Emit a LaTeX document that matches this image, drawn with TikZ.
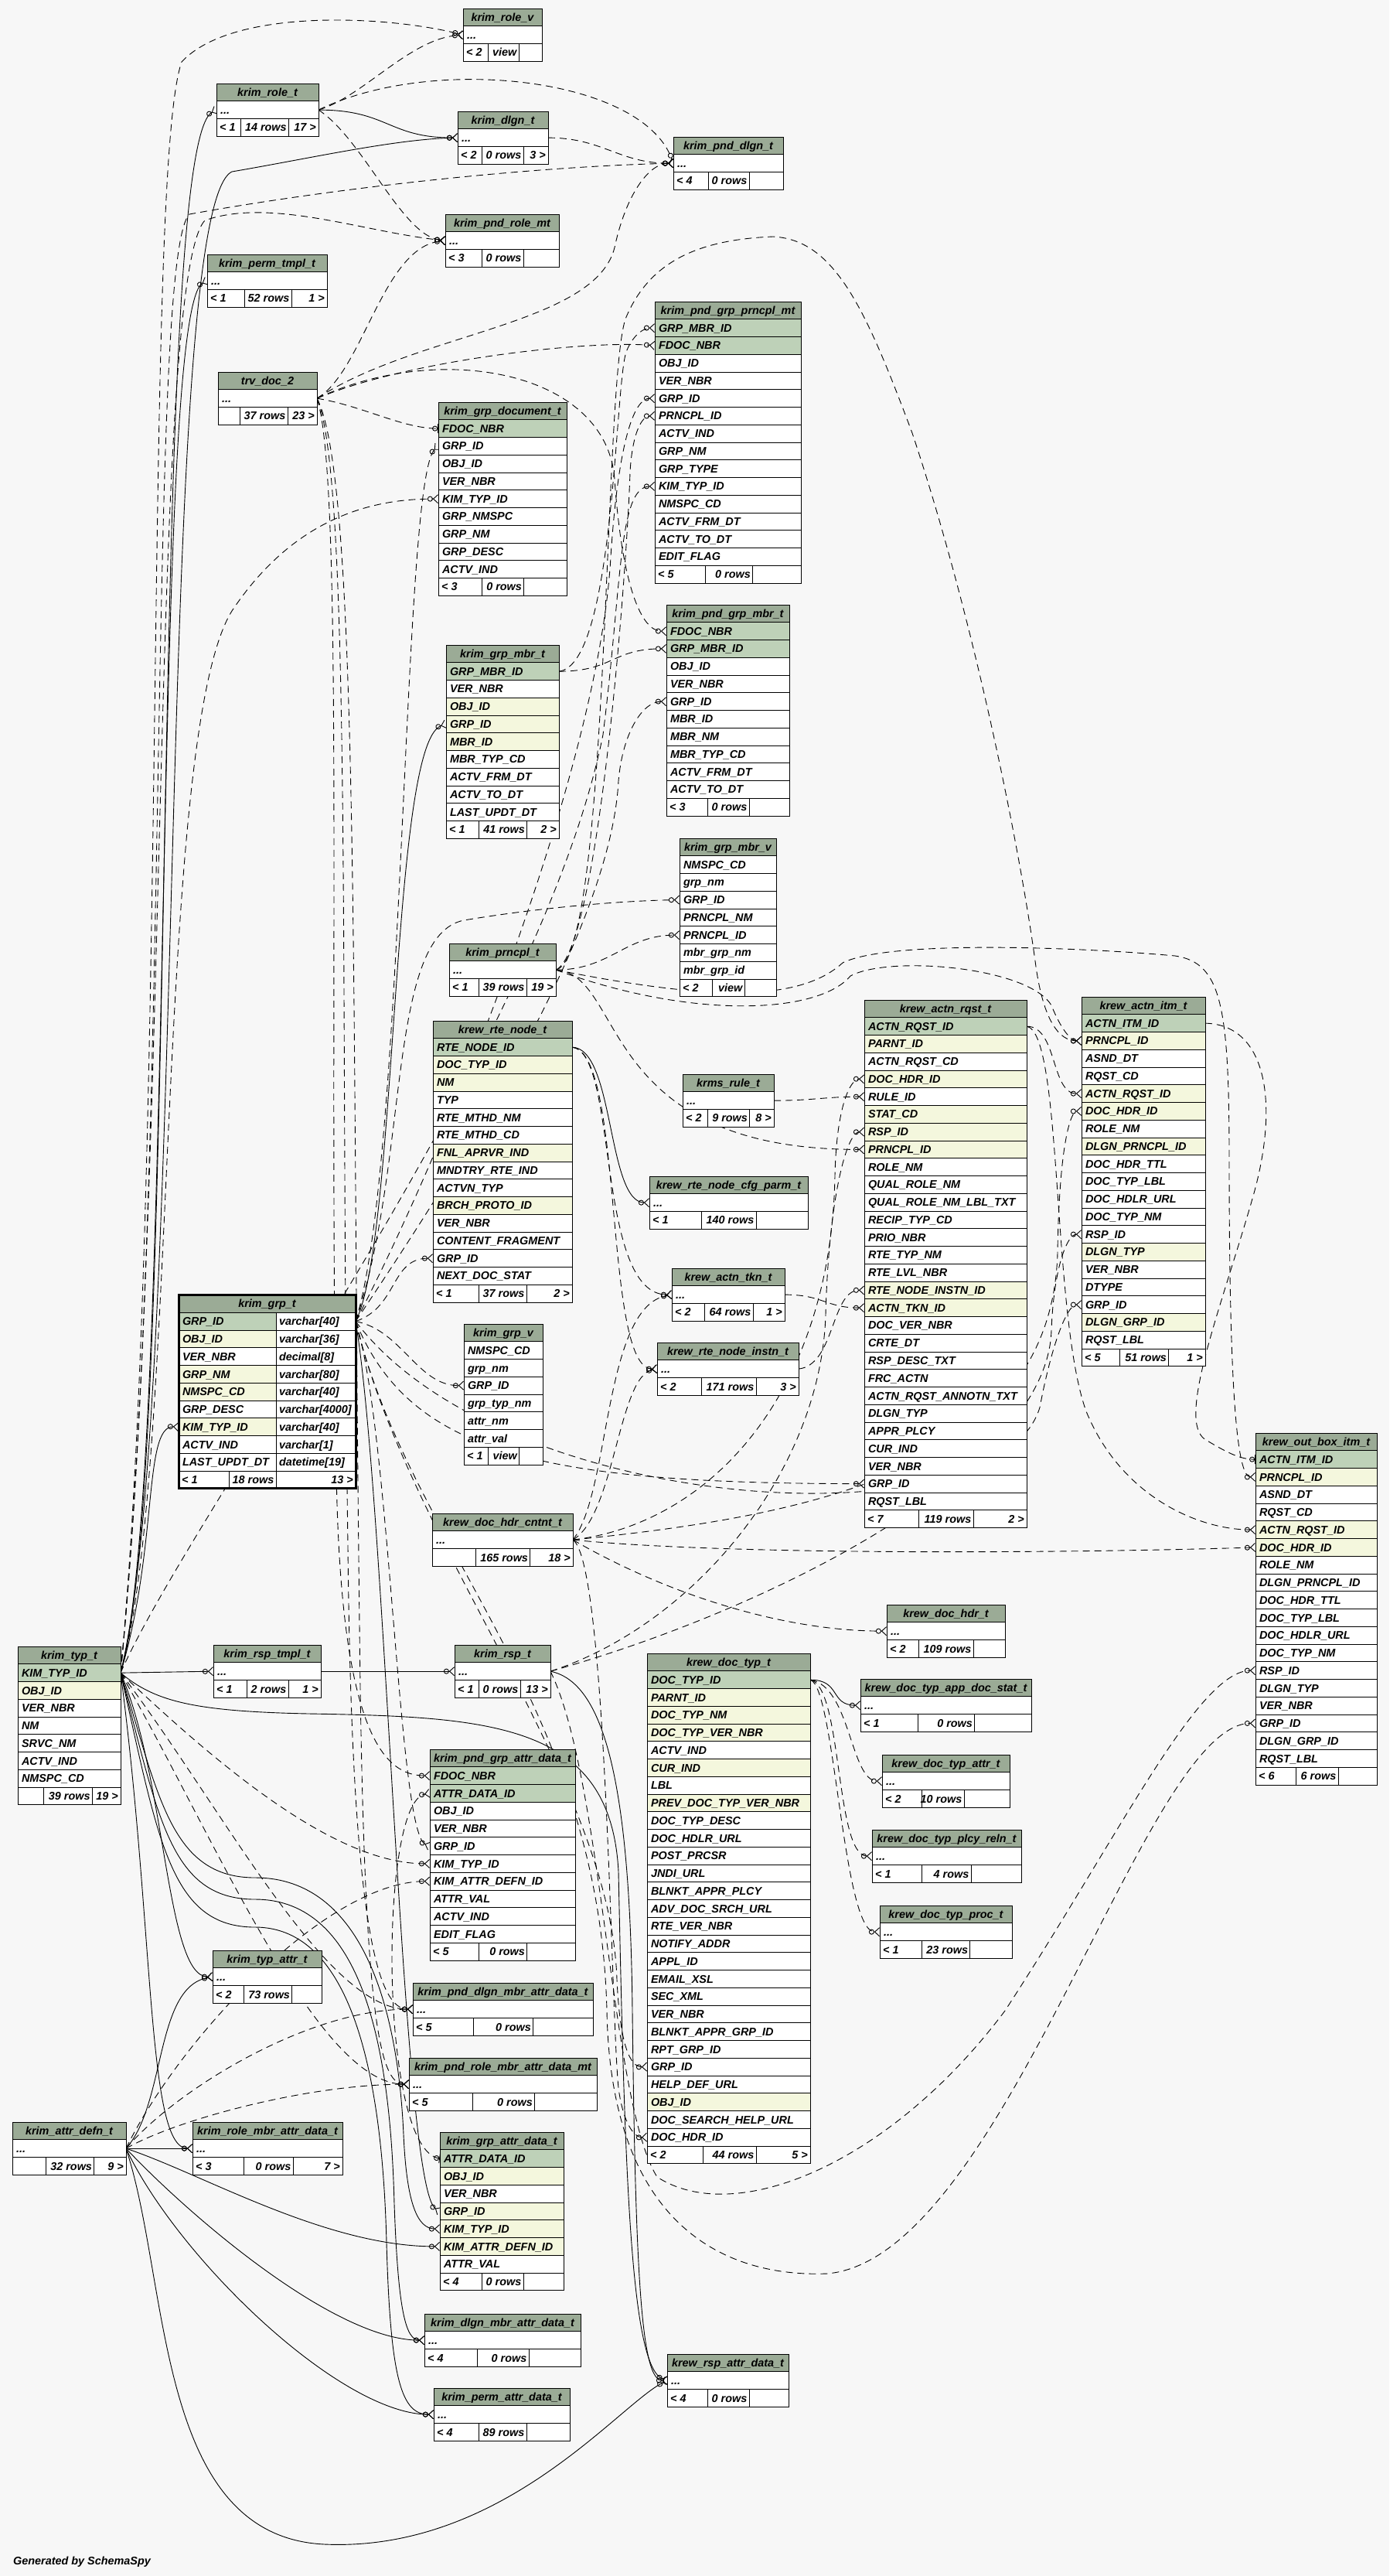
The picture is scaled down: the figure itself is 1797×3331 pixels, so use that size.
\documentclass[tikz,border=0pt]{standalone}
\usepackage{fontspec}
\setmainfont{Liberation Sans}
\usetikzlibrary{arrows.meta}
\definecolor{bg}{HTML}{F7F7F7}
\definecolor{hdr}{HTML}{9BAB96}
\definecolor{rowpk}{HTML}{BED1B8}
\definecolor{rowix}{HTML}{F4F7DD}
\definecolor{rowplain}{HTML}{FFFFFF}
\pgfdeclarelayer{bgfill}
\pgfdeclarelayer{edges}
\pgfsetlayers{bgfill,edges,main}
\newcommand\rowdots{...}
\tikzset{
  cell/.style={draw=black, line width=1pt, anchor=north west, outer sep=0pt,
               inner xsep=5pt, inner ysep=0pt, minimum height=22.75pt,
               text height=12.2pt, text depth=2pt, align=left},
  hdcell/.style={cell, fill=hdr, align=center, inner xsep=0pt},
  ftxt/.style={inner sep=0pt, text height=12.2pt, text depth=2pt},
  fk/.style={draw=black, line width=0.9pt},
  imp/.style={fk, dash pattern=on 9pt off 6pt},
  crow/.style={-{Circle[open,length=7pt,width=7pt]Straight Barb[reversed,length=6pt,width=11pt]}},
  one/.style={-{Circle[open,length=7pt,width=7pt]Bar[width=12pt]}},
  both/.style={{Bar[width=12pt]Circle[open,length=7pt,width=7pt]}-{Circle[open,length=7pt,width=7pt]Straight Barb[reversed,length=6pt,width=11pt]}},
}
% table: name, left, right, top, rows (text/kind)
\newcommand\dbtable[5]{%
  \pgfmathsetmacro\dbw{#3-#2}%
  \pgfmathsetmacro\dbtw{#3-#2-10}%
  \xdef\dbl{#2}\xdef\dbr{#3}\xdef\dbtop{#4}%
  \node[hdcell, minimum width=\dbw pt] (#1) at (#2,#4) {#1};
  \foreach \txt/\kind [count=\i] in {#5}{%
    \node[cell, fill=row\kind, text width=\dbtw pt] (#1-\i) at (#2,#4+\i*22.75) {\txt};
    \xdef\dbn{\i}}%
}
% footer: name, divider 1, divider 2, three texts
\newcommand\dbfoot[6]{%
  \pgfmathsetmacro\dbfy{\dbtop+(\dbn+1)*22.75}%
  \pgfmathsetmacro\dbfm{\dbfy+11.375}%
  \node[cell, fill=white, minimum width=\dbw pt] (#1-foot) at (\dbl,\dbfy) {};
  \draw[line width=1pt] (#2,\dbfy) -- ++(0,22.75);
  \draw[line width=1pt] (#3,\dbfy) -- ++(0,22.75);
  \node[ftxt, anchor=west] (#1-fa) at (\dbl+4,\dbfm) {#4};
  \node[ftxt, anchor=east] (#1-fb) at (#3-2.5,\dbfm) {#5};
  \node[ftxt, anchor=east] (#1-fc) at (\dbr-3,\dbfm) {#6};
}
\begin{document}
\catcode`\_=12
\begin{tikzpicture}[x=1pt,y=-1pt,font=\fontsize{14.4}{17}\selectfont\bfseries\itshape]
\useasboundingbox (0,0) rectangle (1797,3331);
\begin{pgfonlayer}{bgfill}
\fill[bg] (0,0) rectangle (1797,3331);
\end{pgfonlayer}

% top block
\dbtable{krim_role_v}{599}{701}{11}{\rowdots/plain}
\dbfoot{krim_role_v}{631.5}{671}{< 2}{view}{}
\dbtable{krim_role_t}{280}{412}{108}{\rowdots/plain}
\dbfoot{krim_role_t}{311.6}{373.4}{< 1}{14 rows}{17 >}
\dbtable{krim_dlgn_t}{592}{709}{144}{\rowdots/plain}
\dbfoot{krim_dlgn_t}{623}{677}{< 2}{0 rows}{3 >}
\dbtable{krim_pnd_dlgn_t}{871}{1013}{177}{\rowdots/plain}
\dbfoot{krim_pnd_dlgn_t}{916}{969}{< 4}{0 rows}{}
\dbtable{krim_pnd_role_mt}{576}{723}{277}{\rowdots/plain}
\dbfoot{krim_pnd_role_mt}{623}{677}{< 3}{0 rows}{}
\dbtable{krim_perm_tmpl_t}{268}{423}{329}{\rowdots/plain}
\dbfoot{krim_perm_tmpl_t}{316}{377}{< 1}{52 rows}{1 >}
\dbtable{trv_doc_2}{282}{410}{481}{\rowdots/plain}
\dbfoot{trv_doc_2}{310}{372}{}{37 rows}{23 >}
\dbtable{krim_pnd_grp_prncpl_mt}{847}{1036}{390}{GRP_MBR_ID/pk, FDOC_NBR/pk, OBJ_ID/plain, VER_NBR/plain,
  GRP_ID/plain, PRNCPL_ID/plain, ACTV_IND/plain, GRP_NM/plain, GRP_TYPE/plain, KIM_TYP_ID/plain,
  NMSPC_CD/plain, ACTV_FRM_DT/plain, ACTV_TO_DT/plain, EDIT_FLAG/plain}
\dbfoot{krim_pnd_grp_prncpl_mt}{912}{973.5}{< 5}{0 rows}{}
\dbtable{krim_grp_document_t}{567}{733}{520}{FDOC_NBR/pk, GRP_ID/plain, OBJ_ID/plain, VER_NBR/plain,
  KIM_TYP_ID/plain, GRP_NMSPC/plain, GRP_NM/plain, GRP_DESC/plain, ACTV_IND/plain}
\dbfoot{krim_grp_document_t}{623.5}{677.6}{< 3}{0 rows}{}
\dbtable{krim_pnd_grp_mbr_t}{862}{1021}{782}{FDOC_NBR/pk, GRP_MBR_ID/pk, OBJ_ID/plain, VER_NBR/plain,
  GRP_ID/plain, MBR_ID/plain, MBR_NM/plain, MBR_TYP_CD/plain, ACTV_FRM_DT/plain, ACTV_TO_DT/plain}
\dbfoot{krim_pnd_grp_mbr_t}{915}{969}{< 3}{0 rows}{}
\dbtable{krim_grp_mbr_t}{577}{723}{834}{GRP_MBR_ID/pk, VER_NBR/plain, OBJ_ID/ix, GRP_ID/ix, MBR_ID/ix,
  MBR_TYP_CD/plain, ACTV_FRM_DT/plain, ACTV_TO_DT/plain, LAST_UPDT_DT/plain}
\dbfoot{krim_grp_mbr_t}{619}{681.6}{< 1}{41 rows}{2 >}
\dbtable{krim_grp_mbr_v}{879}{1004}{1084}{NMSPC_CD/plain, grp_nm/plain, GRP_ID/plain, PRNCPL_NM/plain,
  PRNCPL_ID/plain, mbr_grp_nm/plain, mbr_grp_id/plain}
\dbfoot{krim_grp_mbr_v}{921}{963}{< 2}{view}{}
\dbtable{krim_prncpl_t}{581}{719}{1220}{\rowdots/plain}
\dbfoot{krim_prncpl_t}{619}{681}{< 1}{39 rows}{19 >}

% middle block
\dbtable{krew_rte_node_t}{560}{740}{1320}{RTE_NODE_ID/pk, DOC_TYP_ID/ix, NM/ix, TYP/plain, RTE_MTHD_NM/plain,
  RTE_MTHD_CD/plain, FNL_APRVR_IND/ix, MNDTRY_RTE_IND/plain, ACTVN_TYP/plain, BRCH_PROTO_ID/ix,
  VER_NBR/plain, CONTENT_FRAGMENT/plain, GRP_ID/plain, NEXT_DOC_STAT/plain}
\dbfoot{krew_rte_node_t}{619}{681}{< 1}{37 rows}{2 >}
\dbtable{krew_actn_rqst_t}{1118}{1328}{1293}{ACTN_RQST_ID/pk, PARNT_ID/ix, ACTN_RQST_CD/plain, DOC_HDR_ID/ix,
  RULE_ID/plain, STAT_CD/ix, RSP_ID/ix, PRNCPL_ID/ix, ROLE_NM/plain, QUAL_ROLE_NM/plain,
  QUAL_ROLE_NM_LBL_TXT/plain, RECIP_TYP_CD/plain, PRIO_NBR/plain, RTE_TYP_NM/plain, RTE_LVL_NBR/plain,
  RTE_NODE_INSTN_ID/ix, ACTN_TKN_ID/ix, DOC_VER_NBR/plain, CRTE_DT/plain, RSP_DESC_TXT/plain,
  FRC_ACTN/plain, ACTN_RQST_ANNOTN_TXT/plain, DLGN_TYP/plain, APPR_PLCY/plain, CUR_IND/plain,
  VER_NBR/plain, GRP_ID/plain, RQST_LBL/plain}
\dbfoot{krew_actn_rqst_t}{1188}{1259}{< 7}{119 rows}{2 >}
\dbtable{krew_actn_itm_t}{1399}{1559}{1289}{ACTN_ITM_ID/pk, PRNCPL_ID/ix, ASND_DT/plain, RQST_CD/plain,
  ACTN_RQST_ID/ix, DOC_HDR_ID/ix, ROLE_NM/plain, DLGN_PRNCPL_ID/ix, DOC_HDR_TTL/plain, DOC_TYP_LBL/plain,
  DOC_HDLR_URL/plain, DOC_TYP_NM/plain, RSP_ID/plain, DLGN_TYP/ix, VER_NBR/plain, DTYPE/plain,
  GRP_ID/plain, DLGN_GRP_ID/ix, RQST_LBL/plain}
\dbfoot{krew_actn_itm_t}{1448}{1511.7}{< 5}{51 rows}{1 >}
\dbtable{krms_rule_t}{883}{1001}{1389}{\rowdots/plain}
\dbfoot{krms_rule_t}{915}{969.6}{< 2}{9 rows}{8 >}
\dbtable{krew_rte_node_cfg_parm_t}{840}{1045}{1521}{\rowdots/plain}
\dbfoot{krew_rte_node_cfg_parm_t}{907}{978}{< 1}{140 rows}{}
\dbtable{krew_actn_tkn_t}{869}{1015}{1640}{\rowdots/plain}
\dbfoot{krew_actn_tkn_t}{911}{974}{< 2}{64 rows}{1 >}
\dbtable{krew_rte_node_instn_t}{850}{1033}{1736}{\rowdots/plain}
\dbfoot{krew_rte_node_instn_t}{907}{978}{< 2}{171 rows}{3 >}
\dbtable{krim_grp_v}{600}{702}{1712}{NMSPC_CD/plain, grp_nm/plain, GRP_ID/plain, grp_typ_nm/plain,
  attr_nm/plain, attr_val/plain}
\dbfoot{krim_grp_v}{631}{671.6}{< 1}{view}{}
\dbtable{krew_out_box_itm_t}{1624}{1781}{1853}{ACTN_ITM_ID/pk, PRNCPL_ID/ix, ASND_DT/plain, RQST_CD/plain,
  ACTN_RQST_ID/ix, DOC_HDR_ID/ix, ROLE_NM/plain, DLGN_PRNCPL_ID/plain, DOC_HDR_TTL/plain, DOC_TYP_LBL/plain,
  DOC_HDLR_URL/plain, DOC_TYP_NM/plain, RSP_ID/plain, DLGN_TYP/plain, VER_NBR/plain, GRP_ID/plain,
  DLGN_GRP_ID/plain, RQST_LBL/plain}
\dbfoot{krew_out_box_itm_t}{1676}{1731}{< 6}{6 rows}{}
\dbtable{krew_doc_hdr_cntnt_t}{559}{741}{1957}{\rowdots/plain}
\dbfoot{krew_doc_hdr_cntnt_t}{615.7}{685.7}{}{165 rows}{18 >}

% focus table
\node[hdcell, minimum width=229pt] (krim_grp_t) at (231,1674.5) {krim_grp_t};
\foreach \cname/\ctype/\kind [count=\i] in {GRP_ID/varchar[40]/pk, OBJ_ID/varchar[36]/ix,
  VER_NBR/decimal[8]/plain, GRP_NM/varchar[80]/ix, NMSPC_CD/varchar[40]/ix, GRP_DESC/varchar[4000]/plain,
  KIM_TYP_ID/varchar[40]/ix, ACTV_IND/varchar[1]/plain, LAST_UPDT_DT/datetime[19]/plain}{
  \node[cell, fill=row\kind, text width=116pt] (krim_grp_t-\i) at (231,1674.5+\i*22.75) {\cname};
  \node[cell, fill=white, inner xsep=4pt, text width=95pt] (krim_grp_t-\i-type) at (357,1674.5+\i*22.75) {\ctype};
}
\def\dbl{231}\def\dbr{460}\def\dbtop{1674.5}\def\dbn{9}\def\dbw{229}
\dbfoot{krim_grp_t}{296}{357}{< 1}{18 rows}{13 >}
\draw[line width=3pt] (krim_grp_t.north west) rectangle (krim_grp_t-foot.south east);

% lower block
\dbtable{krew_doc_hdr_t}{1147}{1300}{2075}{\rowdots/plain}
\dbfoot{krew_doc_hdr_t}{1188}{1259}{< 2}{109 rows}{}
\dbtable{krim_typ_t}{23}{156}{2129}{KIM_TYP_ID/pk, OBJ_ID/ix, VER_NBR/plain, NM/plain, SRVC_NM/plain,
  ACTV_IND/plain, NMSPC_CD/plain}
\dbfoot{krim_typ_t}{56.7}{119.3}{}{39 rows}{19 >}
\dbtable{krim_rsp_tmpl_t}{276}{415}{2127}{\rowdots/plain}
\dbfoot{krim_rsp_tmpl_t}{319}{373}{< 1}{2 rows}{1 >}
\dbtable{krim_rsp_t}{588}{712}{2127}{\rowdots/plain}
\dbfoot{krim_rsp_t}{619}{673}{< 1}{0 rows}{13 >}
\dbtable{krew_doc_typ_t}{837}{1048}{2138}{DOC_TYP_ID/pk, PARNT_ID/ix, DOC_TYP_NM/ix, DOC_TYP_VER_NBR/ix,
  ACTV_IND/plain, CUR_IND/ix, LBL/plain, PREV_DOC_TYP_VER_NBR/ix, DOC_TYP_DESC/plain, DOC_HDLR_URL/plain,
  POST_PRCSR/plain, JNDI_URL/plain, BLNKT_APPR_PLCY/plain, ADV_DOC_SRCH_URL/plain, RTE_VER_NBR/plain,
  NOTIFY_ADDR/plain, APPL_ID/plain, EMAIL_XSL/plain, SEC_XML/plain, VER_NBR/plain, BLNKT_APPR_GRP_ID/plain,
  RPT_GRP_ID/plain, GRP_ID/plain, HELP_DEF_URL/plain, OBJ_ID/ix, DOC_SEARCH_HELP_URL/plain, DOC_HDR_ID/plain}
\dbfoot{krew_doc_typ_t}{909}{978}{< 2}{44 rows}{5 >}
\dbtable{krew_doc_typ_app_doc_stat_t}{1113}{1334}{2171}{\rowdots/plain}
\dbfoot{krew_doc_typ_app_doc_stat_t}{1187}{1260.6}{< 1}{0 rows}{}
\dbtable{krew_doc_typ_attr_t}{1141}{1306}{2269}{\rowdots/plain}
\dbfoot{krew_doc_typ_attr_t}{1192.6}{1247}{< 2}{10 rows}{}
\dbtable{krew_doc_typ_plcy_reln_t}{1128}{1321}{2366}{\rowdots/plain}
\dbfoot{krew_doc_typ_plcy_reln_t}{1192.6}{1256}{< 1}{4 rows}{}
\dbtable{krew_doc_typ_proc_t}{1138}{1309}{2464}{\rowdots/plain}
\dbfoot{krew_doc_typ_proc_t}{1192.6}{1254.8}{< 1}{23 rows}{}
\dbtable{krim_pnd_grp_attr_data_t}{556}{744}{2262}{FDOC_NBR/pk, ATTR_DATA_ID/pk, OBJ_ID/plain, VER_NBR/plain,
  GRP_ID/plain, KIM_TYP_ID/plain, KIM_ATTR_DEFN_ID/plain, ATTR_VAL/plain, ACTV_IND/plain, EDIT_FLAG/plain}
\dbfoot{krim_pnd_grp_attr_data_t}{619}{681.6}{< 5}{0 rows}{}
\dbtable{krim_typ_attr_t}{275}{416}{2522}{\rowdots/plain}
\dbfoot{krim_typ_attr_t}{315}{377.7}{< 2}{73 rows}{}
\dbtable{krim_pnd_dlgn_mbr_attr_data_t}{534}{767}{2564}{\rowdots/plain}
\dbfoot{krim_pnd_dlgn_mbr_attr_data_t}{612.6}{689.5}{< 5}{0 rows}{}
\dbtable{krim_pnd_role_mbr_attr_data_mt}{529}{772}{2661}{\rowdots/plain}
\dbfoot{krim_pnd_role_mbr_attr_data_mt}{611.5}{691.5}{< 5}{0 rows}{}
\dbtable{krim_attr_defn_t}{16}{163}{2744}{\rowdots/plain}
\dbfoot{krim_attr_defn_t}{59}{121.7}{}{32 rows}{9 >}
\dbtable{krim_role_mbr_attr_data_t}{249}{443}{2744}{\rowdots/plain}
\dbfoot{krim_role_mbr_attr_data_t}{315}{379}{< 3}{0 rows}{7 >}
\dbtable{krim_grp_attr_data_t}{569}{729}{2757}{ATTR_DATA_ID/pk, OBJ_ID/ix, VER_NBR/plain, GRP_ID/ix,
  KIM_TYP_ID/ix, KIM_ATTR_DEFN_ID/ix, ATTR_VAL/plain}
\dbfoot{krim_grp_attr_data_t}{623}{677}{< 4}{0 rows}{}
\dbtable{krim_dlgn_mbr_attr_data_t}{549}{751}{2992}{\rowdots/plain}
\dbfoot{krim_dlgn_mbr_attr_data_t}{617.5}{684}{< 4}{0 rows}{}
\dbtable{krew_rsp_attr_data_t}{863}{1020}{3044}{\rowdots/plain}
\dbfoot{krew_rsp_attr_data_t}{915}{969}{< 4}{0 rows}{}
\dbtable{krim_perm_attr_data_t}{561}{737}{3088}{\rowdots/plain}
\dbfoot{krim_perm_attr_data_t}{619}{681}{< 4}{89 rows}{}

\node[anchor=base west, inner sep=0pt] (credit) at (17,3316) {Generated by SchemaSpy};

\begin{pgfonlayer}{edges}
% from krim_typ_t
\draw[fk,crow] (krim_typ_t-1.east) .. controls (235,1900) and (190,190) .. (krim_role_t-1.west);
\draw[fk,crow] (krim_typ_t-1.east) .. controls (228,1900) and (195,400) .. (krim_perm_tmpl_t-1.west);
\draw[fk,crow] (krim_typ_t-1.east) .. controls (245,1800) and (200,270) .. (300,222)
  .. controls (400,205) and (510,180) .. (krim_dlgn_t-1.west);
\draw[fk,crow] (krim_typ_t-1.east) .. controls (205,2000) and (185,1843) .. (krim_grp_t-7.west);
\draw[fk,crow] (krim_typ_t-1.east) -- (krim_rsp_tmpl_t-1.west);
\draw[fk,crow] (krim_typ_t-1.east) .. controls (215,2300) and (215,2556) .. (krim_typ_attr_t-1.west);
\draw[fk,crow] (krim_typ_t-1.east) .. controls (200,2500) and (190,2778) .. (krim_role_mbr_attr_data_t-1.west);
\draw[fk,crow] (krim_typ_t-1.east) .. controls (205,2320) and (220,2428) .. (330,2428)
  .. controls (470,2428) and (515,2600) .. (522,2760) .. controls (526,2850) and (540,2882) .. (krim_grp_attr_data_t-5.west);
\draw[fk,crow] (krim_typ_t-1.east) .. controls (205,2350) and (220,2456) .. (330,2456)
  .. controls (470,2456) and (505,2650) .. (510,2850) .. controls (515,2990) and (525,3026) .. (krim_dlgn_mbr_attr_data_t-1.west);
\draw[fk,crow] (krim_typ_t-1.east) .. controls (205,2380) and (220,2492) .. (330,2492)
  .. controls (460,2492) and (495,2700) .. (500,2900) .. controls (505,3080) and (520,3122) .. (krim_perm_attr_data_t-1.west);
\draw[fk,crow] (krim_typ_t-1.east) .. controls (200,2200) and (250,2213) .. (400,2216)
  .. controls (640,2220) and (790,2230) .. (800,2420) .. controls (808,2800) and (815,3060) .. (krew_rsp_attr_data_t-1.west);
\draw[imp,crow] (krim_typ_t-1.east) .. controls (300,2300) and (440,2410) .. (krim_pnd_grp_attr_data_t-6.west);
\draw[imp,crow] (krim_typ_t-1.east) .. controls (290,2340) and (420,2598) .. (krim_pnd_dlgn_mbr_attr_data_t-1.west);
\draw[imp,crow] (krim_typ_t-1.east) .. controls (280,2380) and (410,2695) .. (krim_pnd_role_mbr_attr_data_mt-1.west);
\draw[imp,crow] (krim_typ_t-1.east) .. controls (232,1900) and (200,950) .. (300,790)
  .. controls (380,670) and (480,645) .. (krim_grp_document_t-5.west);
\draw[imp,crow] (krim_typ_t-1.east) .. controls (250,1950) and (700,1350) .. (780,950)
  .. controls (805,750) and (800,629) .. (krim_pnd_grp_prncpl_mt-10.west);
\draw[imp,crow] (krim_typ_t-1.east) .. controls (218,1500) and (185,220) .. (235,80)
  .. controls (300,10) and (500,20) .. (krim_role_v-1.west);
\draw[imp,crow] (krim_typ_t-1.east) .. controls (222,1500) and (190,330) .. (245,277)
  .. controls (450,240) and (700,215) .. (krim_pnd_dlgn_t-1.west);
\draw[imp,crow] (krim_typ_t-1.east) .. controls (220,1500) and (195,360) .. (265,285)
  .. controls (350,255) and (470,300) .. (krim_pnd_role_mt-1.west);
% from krim_attr_defn_t
\draw[fk,crow] (krim_attr_defn_t-1.east) -- (krim_role_mbr_attr_data_t-1.west);
\draw[fk,crow] (krim_attr_defn_t-1.east) .. controls (215,2720) and (200,2570) .. (krim_typ_attr_t-1.west);
\draw[fk,crow] (krim_attr_defn_t-1.east) .. controls (260,2810) and (420,2905) .. (krim_grp_attr_data_t-6.west);
\draw[fk,crow] (krim_attr_defn_t-1.east) .. controls (240,2860) and (430,3026) .. (krim_dlgn_mbr_attr_data_t-1.west);
\draw[fk,crow] (krim_attr_defn_t-1.east) .. controls (230,2920) and (440,3122) .. (krim_perm_attr_data_t-1.west);
\draw[fk,crow] (krim_attr_defn_t-1.east) .. controls (220,2950) and (200,3280) .. (420,3290)
  .. controls (650,3300) and (800,3110) .. (krew_rsp_attr_data_t-1.west);
\draw[imp,crow] (krim_attr_defn_t-1.east) .. controls (230,2640) and (420,2433) .. (krim_pnd_grp_attr_data_t-7.west);
\draw[imp,crow] (krim_attr_defn_t-1.east) .. controls (230,2700) and (400,2598) .. (krim_pnd_dlgn_mbr_attr_data_t-1.west);
\draw[imp,crow] (krim_attr_defn_t-1.east) .. controls (230,2740) and (400,2695) .. (krim_pnd_role_mbr_attr_data_mt-1.west);
% from krim_role_t and krim_dlgn_t
\draw[fk,crow] (krim_role_t-1.east) .. controls +(90,0) and +(-90,0) .. (krim_dlgn_t-1.west);
\draw[imp,crow] (krim_role_t-1.east) .. controls (470,125) and (530,50) .. (krim_role_v-1.west);
\draw[imp,crow] (krim_role_t-1.east) .. controls (560,70) and (830,100) .. (krim_pnd_dlgn_t-1.west);
\draw[imp,crow] (krim_role_t-1.east) .. controls (470,180) and (520,305) .. (krim_pnd_role_mt-1.west);
\draw[imp,crow] (krim_dlgn_t-1.east) .. controls +(70,0) and +(-70,0) .. (krim_pnd_dlgn_t-1.west);
% from trv_doc_2
\draw[imp,crow] (trv_doc_2-1.east) .. controls (540,430) and (770,420) .. (795,320)
  .. controls (810,250) and (840,211) .. (krim_pnd_dlgn_t-1.west);
\draw[imp,crow] (trv_doc_2-1.east) .. controls (470,480) and (495,320) .. (krim_pnd_role_mt-1.west);
\draw[imp,crow] (trv_doc_2-1.east) .. controls (530,465) and (760,440) .. (krim_pnd_grp_prncpl_mt-2.west);
\draw[imp,one] (trv_doc_2-1.east) .. controls (470,525) and (520,554) .. (krim_grp_document_t-1.west);
\draw[imp,crow] (trv_doc_2-1.east) .. controls (570,440) and (785,480) .. (795,620)
  .. controls (805,760) and (830,816) .. (krim_pnd_grp_mbr_t-1.west);
\draw[imp,crow] (trv_doc_2-1.east) .. controls (445,620) and (425,1300) .. (435,1900)
  .. controls (440,2250) and (500,2296) .. (krim_pnd_grp_attr_data_t-1.west);
\draw[imp,crow] (trv_doc_2-1.east) .. controls (455,620) and (440,1300) .. (450,2000)
  .. controls (455,2500) and (490,2598) .. (krim_pnd_dlgn_mbr_attr_data_t-1.west);
\draw[imp,crow] (trv_doc_2-1.east) .. controls (465,620) and (455,1300) .. (465,2100)
  .. controls (470,2600) and (490,2695) .. (krim_pnd_role_mbr_attr_data_mt-1.west);
% from krim_grp_t
\draw[fk,crow] (krim_grp_t-1-type.east) .. controls (515,1600) and (505,960) .. (krim_grp_mbr_t-4.west);
\draw[imp,crow] (krim_grp_t-1-type.east) .. controls (525,1500) and (520,620) .. (krim_grp_document_t-2.west);
\draw[imp,crow] (krim_grp_t-1-type.east) .. controls (570,1500) and (775,1000) .. (790,720)
  .. controls (800,570) and (820,515) .. (krim_pnd_grp_prncpl_mt-5.west);
\draw[imp,crow] (krim_grp_t-1-type.east) .. controls (600,1500) and (790,1200) .. (800,1010)
  .. controls (805,950) and (830,907) .. (krim_pnd_grp_mbr_t-5.west);
\draw[imp,crow] (krim_grp_t-1-type.east) .. controls (530,1500) and (500,1210) .. (600,1190)
  .. controls (720,1170) and (830,1164) .. (krim_grp_mbr_v-3.west);
\draw[imp,crow] (krim_grp_t-1-type.east) .. controls (515,1690) and (505,1627) .. (krew_rte_node_t-13.west);
\draw[imp,crow] (krim_grp_t-1-type.east) .. controls (520,1720) and (540,1792) .. (krim_grp_v-3.west);
\draw[imp,crow] (krim_grp_t-1-type.east) .. controls (530,1880) and (700,1918) .. (krew_actn_rqst_t-27.west);
\draw[imp,crow] (krim_grp_t-1-type.east) .. controls (650,1960) and (1290,2000) .. (1345,1820)
  .. controls (1360,1740) and (1380,1687) .. (krew_actn_itm_t-17.west);
\draw[imp,crow] (krim_grp_t-1-type.east) .. controls (530,2000) and (775,2200) .. (785,2600)
  .. controls (790,2880) and (940,2945) .. (1070,2940) .. controls (1300,2920) and (1480,2228) .. (krew_out_box_itm_t-16.west);
\draw[imp,crow] (krim_grp_t-1-type.east) .. controls (530,2000) and (790,2300) .. (798,2560)
  .. controls (802,2645) and (815,2673) .. (krew_doc_typ_t-23.west);
\draw[imp,crow] (krim_grp_t-1-type.east) .. controls (505,1850) and (515,2370) .. (krim_pnd_grp_attr_data_t-5.west);
\draw[fk,crow] (krim_grp_t-1-type.east) .. controls (500,1950) and (520,2830) .. (krim_grp_attr_data_t-4.west);
% from krim_prncpl_t
\draw[imp,crow] (krim_prncpl_t-1.east) .. controls +(70,0) and +(-70,0) .. (krim_grp_mbr_v-5.west);
\draw[imp,crow] (krim_prncpl_t-1.east) .. controls (775,1230) and (812,720) .. (815,610)
  .. controls (818,560) and (830,538) .. (krim_pnd_grp_prncpl_mt-6.west);
\draw[imp,crow] (krim_prncpl_t-1.east) .. controls (810,1260) and (770,1487) .. (krew_actn_rqst_t-8.west);
\draw[imp,crow] (krim_prncpl_t-1.east) .. controls (790,1240) and (780,480) .. (810,410)
  .. controls (840,340) and (900,310) .. (1000,306) .. controls (1080,310) and (1120,400) .. (1180,560)
  .. controls (1260,800) and (1320,1100) .. (1340,1250) .. controls (1350,1320) and (1370,1346) .. (krew_actn_itm_t-2.west);
\draw[imp,crow] (krim_prncpl_t-1.east) .. controls (900,1320) and (1060,1310) .. (1100,1262)
  .. controls (1150,1235) and (1330,1250) .. (1360,1300) .. controls (1372,1330) and (1385,1346) .. (krew_actn_itm_t-2.west);
\draw[imp,crow] (krim_prncpl_t-1.east) .. controls (900,1290) and (1030,1300) .. (1090,1245)
  .. controls (1150,1215) and (1400,1225) .. (1520,1236) .. controls (1580,1245) and (1590,1300) .. (1590,1500)
  .. controls (1590,1800) and (1600,1910) .. (krew_out_box_itm_t-2.west);
% from krew_doc_hdr_cntnt_t
\draw[imp,crow] (krew_doc_hdr_cntnt_t-1.east) .. controls (920,1970) and (1075,1800) .. (1080,1520)
  .. controls (1082,1430) and (1100,1395) .. (krew_actn_rqst_t-4.west);
\draw[imp,crow] (krew_doc_hdr_cntnt_t-1.east) .. controls (1050,1960) and (1360,1900) .. (1368,1620)
  .. controls (1370,1480) and (1385,1437) .. (krew_actn_itm_t-6.west);
\draw[imp,crow] (krew_doc_hdr_cntnt_t-1.east) .. controls (950,2012) and (1400,2008) .. (krew_out_box_itm_t-6.west);
\draw[imp,crow] (krew_doc_hdr_cntnt_t-1.east) .. controls (860,2060) and (1010,2109) .. (krew_doc_hdr_t-1.west);
\draw[imp,crow] (krew_doc_hdr_cntnt_t-1.east) .. controls (785,2020) and (790,2600) .. (800,2700)
  .. controls (806,2745) and (820,2764) .. (krew_doc_typ_t-27.west);
\draw[imp,crow] (krew_doc_hdr_cntnt_t-1.east) .. controls (795,1960) and (800,1780) .. (krew_rte_node_instn_t-1.west);
\draw[imp,crow] (krew_doc_hdr_cntnt_t-1.east) .. controls (790,1930) and (780,1690) .. (krew_actn_tkn_t-1.west);
% from krim_rsp_t
\draw[fk,crow] (krim_rsp_tmpl_t-1.east) -- (krim_rsp_t-1.west);
\draw[fk,crow] (krim_rsp_t-1.east) .. controls (780,2175) and (815,2300) .. (818,2600)
  .. controls (822,2950) and (830,3078) .. (krew_rsp_attr_data_t-1.west);
\draw[imp,crow] (krim_rsp_t-1.east) .. controls (900,2100) and (1062,1900) .. (1068,1700)
  .. controls (1072,1550) and (1095,1464) .. (krew_actn_rqst_t-7.west);
\draw[imp,crow] (krim_rsp_t-1.east) .. controls (1000,2080) and (1355,1900) .. (1360,1720)
  .. controls (1363,1640) and (1380,1596) .. (krew_actn_itm_t-13.west);
\draw[imp,crow] (krim_rsp_t-1.east) .. controls (780,2300) and (790,2720) .. (850,2815)
  .. controls (950,2880) and (1150,2800) .. (1300,2600) .. controls (1450,2370) and (1550,2160) .. (krew_out_box_itm_t-13.west);
% from krew_doc_typ_t
\draw[fk,crow] (krew_doc_typ_t-1.east) .. controls +(40,0) and +(-40,0) .. (krew_doc_typ_app_doc_stat_t-1.west);
\draw[imp,crow] (krew_doc_typ_t-1.east) .. controls (1100,2180) and (1100,2303) .. (krew_doc_typ_attr_t-1.west);
\draw[imp,crow] (krew_doc_typ_t-1.east) .. controls (1090,2180) and (1080,2400) .. (krew_doc_typ_plcy_reln_t-1.west);
\draw[imp,crow] (krew_doc_typ_t-1.east) .. controls (1080,2180) and (1090,2498) .. (krew_doc_typ_proc_t-1.west);
% from krew_rte_node_t
\draw[fk,crow] (krew_rte_node_t-1.east) .. controls (795,1355) and (785,1555) .. (krew_rte_node_cfg_parm_t-1.west);
\draw[imp,crow] (krew_rte_node_t-1.east) .. controls (800,1360) and (770,1674) .. (krew_actn_tkn_t-1.west);
\draw[imp,crow] (krew_rte_node_t-1.east) .. controls (808,1360) and (780,1770) .. (krew_rte_node_instn_t-1.west);
% action request area
\draw[imp,crow] (krms_rule_t-1.east) .. controls +(50,0) and +(-50,0) .. (krew_actn_rqst_t-5.west);
\draw[imp,crow] (krew_actn_tkn_t-1.east) .. controls +(50,0) and +(-50,0) .. (krew_actn_rqst_t-17.west);
\draw[imp,crow] (krew_rte_node_instn_t-1.east) .. controls (1080,1765) and (1075,1668) .. (krew_actn_rqst_t-16.west);
\draw[imp,crow] (krew_actn_rqst_t-1.east) .. controls +(40,0) and +(-40,0) .. (krew_actn_itm_t-5.west);
\draw[imp,crow] (krew_actn_rqst_t-1.east) .. controls (1375,1335) and (1360,1700) .. (1405,1825)
  .. controls (1450,1935) and (1550,1978) .. (krew_out_box_itm_t-5.west);
\draw[imp,one] (krew_actn_itm_t-1.east) .. controls (1640,1325) and (1655,1430) .. (1620,1550)
  .. controls (1580,1690) and (1520,1840) .. (1560,1862) .. controls (1590,1880) and (1605,1887) .. (krew_out_box_itm_t-1.west);
% group members and attribute data
\draw[imp,crow] (krim_grp_mbr_t-1.east) .. controls +(70,0) and +(-70,0) .. (krim_pnd_grp_mbr_t-2.west);
\draw[imp,crow] (krim_grp_mbr_t-1.east) .. controls (795,860) and (795,500) .. (810,455)
  .. controls (820,430) and (835,424) .. (krim_pnd_grp_prncpl_mt-1.west);
\draw[imp,both] (krim_grp_attr_data_t-1.west) .. controls (490,2780) and (490,2330) .. (krim_pnd_grp_attr_data_t-2.west);
\end{pgfonlayer}
\end{tikzpicture}
\end{document}
